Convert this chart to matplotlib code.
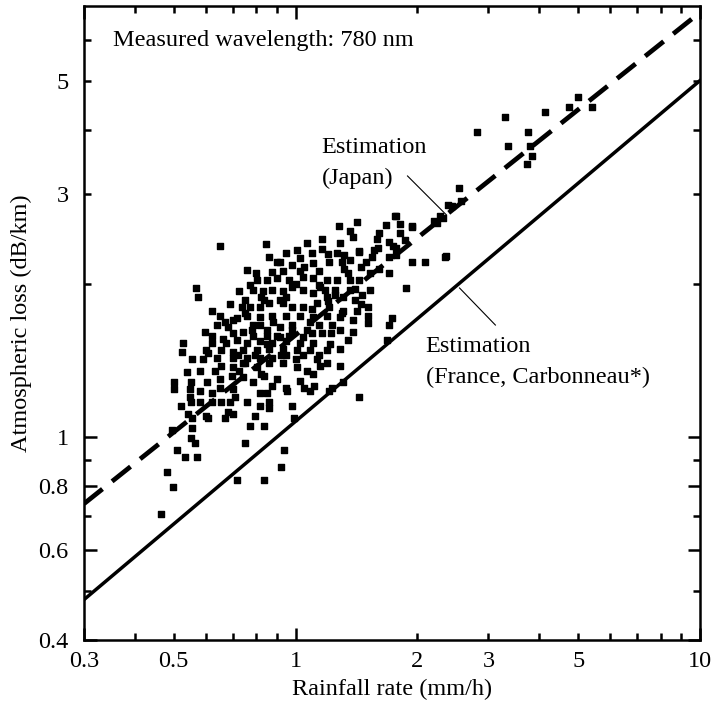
import numpy as np
import matplotlib
matplotlib.use("Agg")
import matplotlib.pyplot as plt
from matplotlib.markers import MarkerStyle
from matplotlib.ticker import FixedLocator, FixedFormatter

plt.rcParams['font.family'] = ['Liberation Serif', 'DejaVu Serif']
plt.rcParams['font.size'] = 17.5

# measured points: rainfall rate (mm/h) and atmospheric loss (dB/km)
rain = [0.649, 0.843, 0.757, 0.913, 0.569, 0.575, 1.278, 1.417, 1.767, 1.677,
        1.808, 1.946, 1.613, 1.808, 1.587, 1.360, 1.384, 1.166, 1.065, 1.285,
        1.006, 1.166, 1.263, 1.439, 1.776, 1.776, 1.707, 1.946, 2.085, 2.337,
        2.232, 2.309, 1.498, 1.360, 1.213, 1.102, 1.023, 0.983, 1.613, 1.707,
        1.524, 1.439, 1.360, 1.263, 1.193, 1.102, 1.041, 0.966, 0.877, 0.848,
        0.801, 0.770, 1.878, 1.524, 1.464, 1.360, 1.307, 1.193, 1.102, 1.041,
        0.983, 0.929, 0.877, 0.829, 0.783, 0.727, 0.748, 0.623, 0.649, 0.736,
        0.770, 0.815, 0.862, 0.929, 0.983, 1.041, 1.127, 1.213, 1.307, 1.417,
        1.507, 1.507, 1.507, 1.384, 1.285, 1.193, 1.102, 1.023, 0.950, 0.877,
        0.815, 0.757, 1.736, 1.707, 0.638, 0.679, 0.596, 0.623, 0.699, 0.740,
        0.783, 0.848, 0.913, 0.983, 1.065, 1.146, 1.234, 1.384, 0.783, 0.848,
        0.913, 0.966, 1.041, 1.160, 1.227, 1.687, 0.526, 0.623, 0.675, 0.715,
        0.757, 0.815, 0.877, 0.950, 1.023, 1.102, 1.193, 1.285, 0.523, 0.606,
        0.656, 0.699, 0.740, 0.801, 0.862, 0.929, 1.006, 1.083, 0.556, 0.589,
        0.638, 0.699, 0.757, 0.815, 0.877, 0.950, 1.041, 1.127, 1.193, 1.285,
        0.538, 0.656, 0.699, 0.740, 0.801, 0.862, 0.929, 1.006, 1.065, 1.102,
        0.502, 0.553, 0.603, 0.695, 0.740, 0.783, 0.877, 0.950, 1.114, 1.234,
        1.307, 0.502, 0.547, 0.699, 0.815, 0.848, 0.955, 1.083, 1.213, 1.439,
        0.553, 0.579, 0.620, 0.656, 0.687, 0.757, 0.815, 0.862, 0.862, 0.983,
        0.541, 0.556, 0.606, 0.668, 0.699, 0.770, 0.838, 0.994, 0.494, 0.556,
        0.553, 0.563, 0.748, 0.508, 0.532, 0.572, 0.939, 0.480, 0.923, 0.497,
        0.715, 0.838, 0.466, 2.815, 3.30, 4.15, 4.74, 4.99, 5.41, 3.76,
        3.36, 3.80, 3.85, 3.74, 2.530, 2.559, 2.377, 2.432, 2.270, 2.194,
        1.757, 1.946, 2.350, 1.746, 1.439, 0.898, 0.929, 1.146, 1.32, 1.25,
        1.146, 1.40, 0.913, 0.838, 1.083, 1.285, 0.815, 0.715, 0.792, 1.146,
        0.898, 0.727, 0.838, 1.023, 0.649, 0.579, 0.792, 1.18, 1.32, 1.56,
        1.86, 1.023, 0.687, 0.631, 0.668, 0.80, 0.86, 0.95, 1.05, 1.10,
        1.20, 1.30, 1.35, 1.45, 1.55, 1.60, 1.70, 0.90, 0.95, 1.00,
        1.15, 1.25, 1.40, 1.45, 1.30, 1.20, 1.10, 0.82, 0.75, 0.70,
        0.78, 0.88, 0.98, 1.10, 1.22, 1.35, 0.92, 0.85, 0.72, 0.66,
        0.60, 0.58, 0.65, 0.75, 0.82, 0.90, 1.00, 1.15, 0.62, 0.71,
        0.55, 0.60, 0.52, 0.68, 1.05]
loss = [2.37, 2.39, 2.13, 2.20, 1.96, 1.88, 2.59, 2.64, 2.71, 2.60,
        2.62, 2.59, 2.51, 2.51, 2.44, 2.54, 2.47, 2.44, 2.40, 2.40,
        2.33, 2.34, 2.30, 2.31, 2.35, 2.27, 2.41, 2.20, 2.20, 2.25,
        2.63, 2.69, 2.20, 2.22, 2.20, 2.19, 2.24, 2.17, 2.14, 2.10,
        2.10, 2.03, 2.03, 2.03, 2.03, 2.05, 2.06, 2.03, 2.11, 2.03,
        2.03, 1.99, 1.96, 1.94, 1.90, 1.94, 1.88, 1.88, 1.92, 1.94,
        1.97, 1.93, 1.94, 1.93, 1.94, 1.93, 1.86, 1.77, 1.73, 1.80,
        1.80, 1.80, 1.83, 1.83, 1.80, 1.80, 1.83, 1.80, 1.77, 1.77,
        1.80, 1.73, 1.67, 1.70, 1.72, 1.73, 1.72, 1.73, 1.73, 1.73,
        1.72, 1.73, 1.71, 1.66, 1.66, 1.64, 1.61, 1.58, 1.60, 1.61,
        1.66, 1.62, 1.64, 1.66, 1.62, 1.66, 1.66, 1.61, 1.58, 1.58,
        1.57, 1.58, 1.57, 1.60, 1.60, 1.55, 1.53, 1.53, 1.53, 1.55,
        1.53, 1.54, 1.53, 1.54, 1.53, 1.53, 1.48, 1.49, 1.47, 1.46,
        1.48, 1.47, 1.48, 1.48, 1.49, 1.49, 1.48, 1.48, 1.42, 1.42,
        1.43, 1.43, 1.43, 1.43, 1.43, 1.45, 1.45, 1.42, 1.40, 1.38,
        1.34, 1.38, 1.37, 1.40, 1.37, 1.40, 1.40, 1.37, 1.35, 1.33,
        1.28, 1.28, 1.28, 1.32, 1.31, 1.28, 1.26, 1.25, 1.26, 1.25,
        1.28, 1.24, 1.24, 1.24, 1.22, 1.22, 1.23, 1.23, 1.23, 1.20,
        1.17, 1.17, 1.17, 1.17, 1.17, 1.17, 1.15, 1.17, 1.14, 1.15,
        1.11, 1.09, 1.09, 1.09, 1.11, 1.05, 1.05, 1.09, 1.03, 1.04,
        0.995, 0.973, 0.973, 0.943, 0.914, 0.914, 0.943, 0.854, 0.873, 0.797,
        0.824, 0.824, 0.706, 3.96, 4.24, 4.34, 4.44, 4.64, 4.44, 3.96,
        3.72, 3.72, 3.56, 3.43, 3.08, 2.90, 2.85, 2.84, 2.71, 2.65,
        2.71, 2.58, 2.26, 2.37, 2.32, 2.20, 2.12, 2.12, 2.14, 1.94,
        1.99, 1.86, 1.86, 1.86, 1.68, 1.62, 1.66, 1.71, 1.45, 1.45,
        1.58, 1.35, 1.32, 1.29, 1.25, 1.23, 1.10, 1.94, 2.27, 2.33,
        2.43, 2.12, 1.82, 1.35, 1.68, 2.10, 2.25, 2.30, 2.15, 2.30,
        2.28, 2.20, 2.10, 2.15, 2.25, 2.35, 2.25, 2.05, 1.88, 2.00,
        1.97, 1.90, 1.95, 1.82, 1.75, 1.85, 1.78, 1.88, 1.75, 1.70,
        1.62, 1.68, 1.62, 1.60, 1.52, 1.55, 1.45, 1.52, 1.45, 1.56,
        1.48, 1.35, 1.30, 1.40, 1.33, 1.30, 1.42, 1.38, 1.22, 1.20,
        1.20, 1.10, 1.15, 1.12, 1.25]

# estimation lines (end points)
line_x = [0.3, 10]
japan_y = [0.74, 6.8]
france_y = [0.48, 5.0]

fig = plt.figure(figsize=(7.15, 7.17), dpi=100)
ax = fig.add_axes([0.1175, 0.1074, 0.8615, 0.8842])

ax.plot(line_x, japan_y, color='black', lw=3.4, dashes=(5.0, 2.6), solid_capstyle='butt')
ax.plot(line_x, france_y, color='black', lw=2.5)
ax.plot(rain, loss, linestyle='none', marker=MarkerStyle('s', joinstyle='round'),
        color='black', markersize=3.9, markeredgewidth=1.0)

ax.set_xscale('log')
ax.set_yscale('log')
ax.set_xlim(0.3, 10)
ax.set_ylim(0.4, 7.0)

# x ticks
ax.xaxis.set_major_locator(FixedLocator([0.3, 1, 10]))
ax.xaxis.set_major_formatter(FixedFormatter(['0.3', '1', '10']))
x_minor = [0.4, 0.5, 0.6, 0.7, 0.8, 0.9, 2, 3, 4, 5, 6, 7, 8, 9]
x_minor_lab = ['', '0.5', '', '', '', '', '2', '3', '', '5', '', '', '', '']
ax.xaxis.set_minor_locator(FixedLocator(x_minor))
ax.xaxis.set_minor_formatter(FixedFormatter(x_minor_lab))

# y ticks
ax.yaxis.set_major_locator(FixedLocator([0.4, 0.6, 0.8, 1]))
ax.yaxis.set_major_formatter(FixedFormatter(['0.4', '0.6', '0.8', '1']))
y_minor = [0.5, 0.7, 0.9, 2, 3, 4, 5, 6]
y_minor_lab = ['', '', '', '', '3', '', '5', '']
ax.yaxis.set_minor_locator(FixedLocator(y_minor))
ax.yaxis.set_minor_formatter(FixedFormatter(y_minor_lab))

ax.tick_params(which='both', direction='in', top=True, right=True, width=1.8, colors='black')
ax.tick_params(which='major', length=9)
ax.tick_params(which='minor', length=5)
ax.tick_params(axis='x', which='both', pad=8, labelsize=17.5)
ax.tick_params(axis='y', which='both', pad=11, labelsize=17.5)
for s in ax.spines.values():
    s.set_linewidth(1.8)

ax.set_xlabel('Rainfall rate (mm/h)', labelpad=5)
ax.set_ylabel('Atmospheric loss (dB/km)', labelpad=5)

ax.text(0.047, 0.946, 'Measured wavelength: 780 nm', transform=ax.transAxes,
        ha='left', va='center')

ax.text(1.16, 3.87, 'Estimation\n(Japan)', ha='left', va='top', linespacing=1.6)
ax.plot([1.892, 2.362], [3.25, 2.725], color='black', lw=0.8)
ax.text(2.096, 1.575, 'Estimation\n(France, Carbonneau*)', ha='left', va='top', linespacing=1.6)
ax.plot([2.544, 3.12], [1.96, 1.658], color='black', lw=0.8)

fig.savefig('out.png', dpi=100)
